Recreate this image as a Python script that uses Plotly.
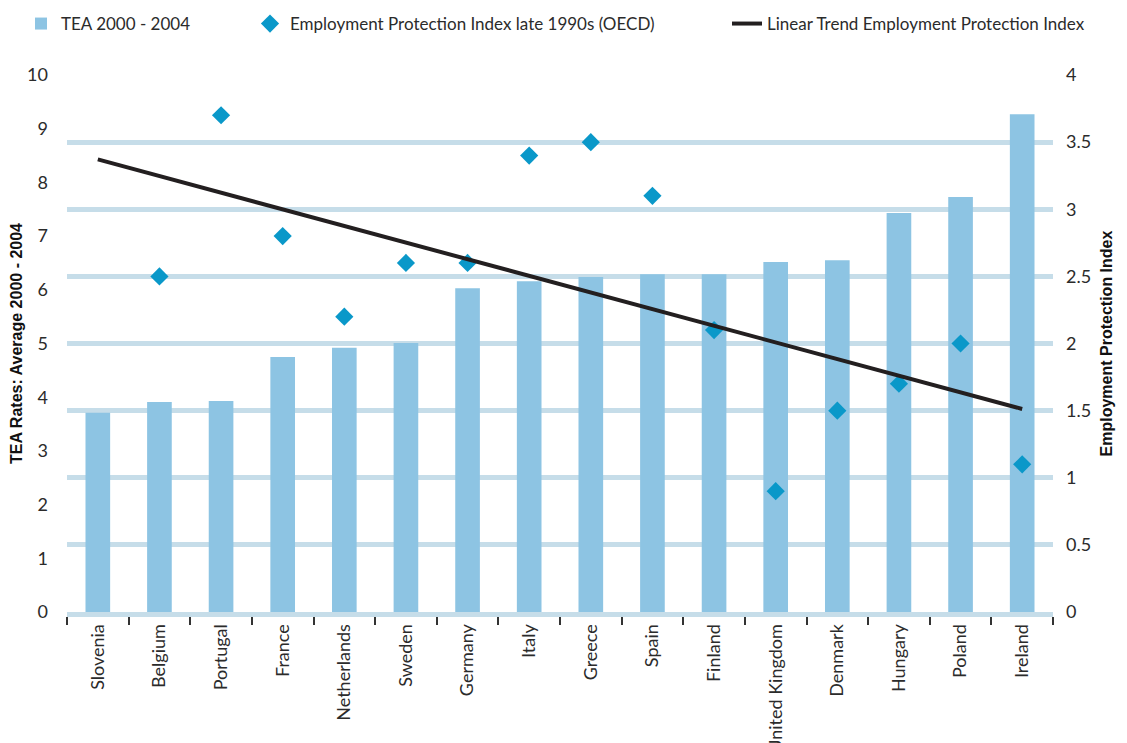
import numpy as np
import plotly.graph_objects as go

countries = ["Slovenia", "Belgium", "Portugal", "France", "Netherlands", "Sweden",
             "Germany", "Italy", "Greece", "Spain", "Finland", "United Kingdom",
             "Denmark", "Hungary", "Poland", "Ireland"]
tea_rates = [3.71, 3.91, 3.93, 4.75, 4.92, 5.01, 6.03, 6.16, 6.24, 6.29, 6.29,
             6.52, 6.55, 7.43, 7.73, 9.27]
epi_late_1990s = [None, 2.5, 3.7, 2.8, 2.2, 2.6, 2.6, 3.4, 3.5, 3.1, 2.1, 0.9,
                  1.5, 1.7, 2.0, 1.1]
left_ticks = list(range(0, 11))
right_ticks = [0, 0.5, 1, 1.5, 2, 2.5, 3, 3.5, 4]
right_tick_text = ["0", "0.5", "1", "1.5", "2", "2.5", "3", "3.5", "4"]

# least-squares trend over the countries that have an index value
idx = np.arange(len(countries))
known = np.array([v is not None for v in epi_late_1990s])
vals = np.array([v if v is not None else np.nan for v in epi_late_1990s], dtype=float)
slope, intercept = np.polyfit(idx[known], vals[known], 1)
trend = intercept + slope * idx

BAR = "#8dc4e3"
DIAMOND = "#0a98c9"
GRID = "#c6dde9"
TEXT = "#2b2b2b"
FONT = "Lato"
TITLE_FONT = dict(family="Liberation Sans", size=16, color="#111111", weight="bold")


def legend_at(x_px):
    return dict(
        orientation="h", x=x_px / 1127, xanchor="left", xref="container",
        y=1.0 - 6 / 743, yanchor="top", yref="container",
        font=dict(family=FONT, size=17, color=TEXT),
        bgcolor="rgba(0,0,0,0)",
    )


fig = go.Figure()
fig.add_trace(go.Bar(
    x=countries, y=tea_rates, name="TEA 2000 - 2004",
    marker=dict(color=BAR, line=dict(width=0)), width=0.4, yaxis="y",
    legend="legend",
))
fig.add_trace(go.Scatter(
    x=countries, y=epi_late_1990s, mode="markers",
    name="Employment Protection Index late 1990s (OECD)",
    marker=dict(symbol="diamond", size=14, color=DIAMOND), yaxis="y2",
    legend="legend2",
))
fig.add_trace(go.Scatter(
    x=countries, y=trend, mode="lines",
    name="Linear Trend Employment Protection Index",
    line=dict(color="#231f20", width=4), yaxis="y2",
    legend="legend3",
))

fig.update_layout(
    width=1127, height=743,
    margin=dict(l=67, r=74, t=75, b=131),
    plot_bgcolor="white", paper_bgcolor="white",
    font=dict(family=FONT, color=TEXT, size=15),
    showlegend=True,
    legend=legend_at(21),
    legend2=legend_at(250),
    legend3=legend_at(727),
    xaxis=dict(
        type="category", tickangle=-90, showgrid=False, automargin=False,
        showline=True, linecolor=GRID, linewidth=5,
        ticks="outside", tickson="boundaries", ticklen=8, tickwidth=1.5,
        tickcolor="#333333", tickfont=dict(family=FONT, size=18, color=TEXT),
        range=[-0.5, len(countries) - 0.5],
    ),
    yaxis=dict(
        range=[0, 10], tickvals=left_ticks, showgrid=False, zeroline=False,
        showline=False, ticks="", ticklabelstandoff=18, automargin=False,
        tickfont=dict(family=FONT, size=18, color=TEXT),
        title=dict(text="TEA Rates: Average 2000 - 2004", standoff=0,
                   font=TITLE_FONT),
    ),
    yaxis2=dict(
        range=[0, 4], tickvals=right_ticks, ticktext=right_tick_text,
        overlaying="y", side="right", showgrid=True, gridcolor=GRID,
        gridwidth=5, zeroline=False, showline=False, ticks="",
        ticklabelstandoff=12, automargin=False,
        tickfont=dict(family=FONT, size=18, color=TEXT),
        title=dict(text="Employment Protection Index", standoff=10,
                   font=TITLE_FONT),
    ),
)

fig.write_html("out.html")
